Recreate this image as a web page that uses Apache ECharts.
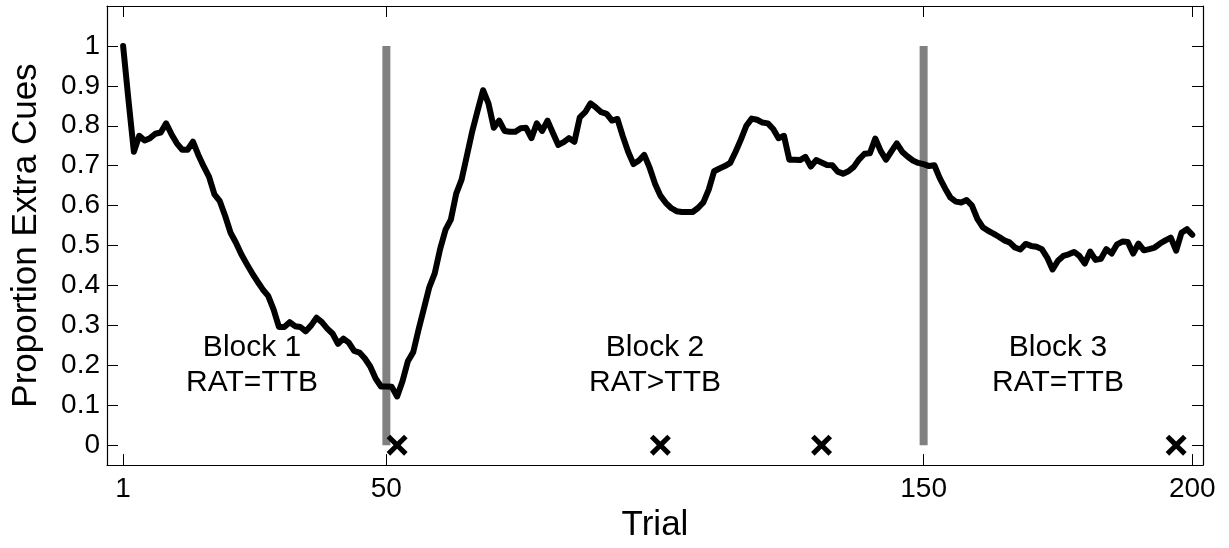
<!DOCTYPE html>
<html>
<head>
<meta charset="utf-8">
<script src="https://cdn.jsdelivr.net/npm/echarts@6/dist/echarts.min.js"></script>
<style>html,body{margin:0;padding:0;background:#fff}#c{width:1229px;height:548px}</style>
</head>
<body>
<div id="c"></div>
<script>
// ---- data ----
const proportion = [
  1.0, 0.864, 0.735, 0.775, 0.763, 0.769, 0.78, 0.783, 0.806, 0.779,
  0.756, 0.74, 0.74, 0.76, 0.727, 0.698, 0.672, 0.628, 0.611, 0.574,
  0.532, 0.507, 0.478, 0.454, 0.431, 0.41, 0.39, 0.374, 0.34, 0.296,
  0.296, 0.308, 0.298, 0.296, 0.285, 0.30, 0.319, 0.308, 0.292, 0.279,
  0.254, 0.267, 0.257, 0.236, 0.232, 0.217, 0.197, 0.167, 0.147, 0.147,
  0.146, 0.122, 0.16, 0.21, 0.233, 0.29, 0.343, 0.396, 0.43, 0.491,
  0.539, 0.565, 0.63, 0.665, 0.726, 0.787, 0.839, 0.889, 0.856, 0.795,
  0.813, 0.787, 0.785, 0.785, 0.794, 0.795, 0.769, 0.806, 0.787, 0.813,
  0.782, 0.752, 0.759, 0.769, 0.76, 0.821, 0.834, 0.856, 0.846, 0.834,
  0.83, 0.813, 0.817, 0.774, 0.735, 0.704, 0.713, 0.727, 0.695, 0.655,
  0.625, 0.607, 0.594, 0.586, 0.584, 0.584, 0.584, 0.594, 0.608, 0.64,
  0.686, 0.693, 0.699, 0.707, 0.735, 0.766, 0.80, 0.818, 0.815, 0.808,
  0.806, 0.792, 0.769, 0.775, 0.715, 0.715, 0.714, 0.722, 0.698, 0.714,
  0.708, 0.702, 0.701, 0.685, 0.68, 0.686, 0.697, 0.716, 0.73, 0.731,
  0.768, 0.737, 0.715, 0.736, 0.756, 0.735, 0.723, 0.713, 0.707, 0.704,
  0.699, 0.701, 0.669, 0.643, 0.62, 0.61, 0.608, 0.614, 0.60, 0.567,
  0.546, 0.537, 0.53, 0.522, 0.513, 0.508, 0.495, 0.49, 0.504, 0.499,
  0.497, 0.491, 0.47, 0.44, 0.462, 0.474, 0.478, 0.484, 0.474, 0.455,
  0.485, 0.464, 0.467, 0.491, 0.48, 0.503, 0.51, 0.509, 0.48, 0.505,
  0.488, 0.491, 0.495, 0.505, 0.513, 0.52, 0.487, 0.532, 0.541, 0.527
];
const trials = proportion.map((_, i) => i + 1);
const blockBoundaries = [50, 150];
const markerTrials = [52, 101, 131, 197];
const blockLabelTrials = [25, 100, 175];
const blockLabelValue = 0.2;
const blockLabels = ['Block 1\nRAT=TTB', 'Block 2\nRAT>TTB', 'Block 3\nRAT=TTB'];
const xTicks = [1, 50, 150, 200];
const yTicks = [0, 0.1, 0.2, 0.3, 0.4, 0.5, 0.6, 0.7, 0.8, 0.9, 1];
const xName = 'Trial';
const yName = 'Proportion Extra Cues';

// ---- chart ----
const FONT = '"Liberation Sans", Arial, Helvetica, sans-serif';
const chart = echarts.init(document.getElementById('c'), null, {renderer: 'canvas'});

const tickStyle = {show: true, inside: true, length: 11, lineStyle: {color: '#000', width: 1}};
const lineStyle = {show: true, onZero: false, lineStyle: {color: '#000', width: 1.2}};

function xAxis(pos, withLabel) {
  return {
    type: 'value', position: pos, min: -2, max: 202,
    axisLine: lineStyle,
    axisTick: Object.assign({customValues: xTicks}, tickStyle),
    axisLabel: withLabel ? {show: true, customValues: xTicks, fontSize: 28, color: '#000', fontFamily: FONT, margin: 10} : {show: false},
    splitLine: {show: false},
    name: withLabel ? xName : '', nameLocation: 'middle', nameGap: 42,
    nameTextStyle: {fontSize: 35, color: '#000', fontFamily: FONT}
  };
}
function yAxis(pos, withLabel) {
  return {
    type: 'value', position: pos, min: -0.05, max: 1.1,
    axisLine: lineStyle,
    axisTick: Object.assign({customValues: yTicks}, tickStyle),
    axisLabel: withLabel ? {show: true, customValues: yTicks, fontSize: 28, color: '#000', fontFamily: FONT, margin: 7,
      formatter: v => String(+(+v).toFixed(1))} : {show: false},
    splitLine: {show: false},
    name: withLabel ? yName : '', nameLocation: 'middle', nameGap: 63, nameRotate: 90,
    nameTextStyle: {fontSize: 35, color: '#000', fontFamily: FONT}
  };
}

const series = [];
blockBoundaries.forEach(b => {
  series.push({
    type: 'line', xAxisIndex: 0, yAxisIndex: 0, z: 1,
    data: [[b, 0], [b, 1]], symbol: 'none',
    lineStyle: {color: '#808080', width: 8, cap: 'butt'}, silent: true
  });
});
series.push({
  type: 'line', xAxisIndex: 0, yAxisIndex: 0, z: 3,
  data: trials.map((t, i) => [t, proportion[i]]), symbol: 'none',
  lineStyle: {color: '#000', width: 6, join: 'round', cap: 'round'}, silent: true
});
series.push({
  type: 'scatter', xAxisIndex: 0, yAxisIndex: 0, z: 4,
  data: markerTrials.map(t => [t, 0]),
  symbol: 'path://M0,3.4 L3.4,0 L10,6.6 L16.6,0 L20,3.4 L13.4,10 L20,16.6 L16.6,20 L10,13.4 L3.4,20 L0,16.6 L6.6,10 Z',
  symbolSize: 21, itemStyle: {color: '#000', opacity: 1}, silent: true
});
series.push({
  type: 'scatter', xAxisIndex: 0, yAxisIndex: 0, z: 5,
  data: blockLabelTrials.map((t, i) => ({value: [t, blockLabelValue], name: blockLabels[i]})),
  symbolSize: 1, itemStyle: {color: 'rgba(0,0,0,0)', opacity: 1}, silent: true,
  label: {show: true, position: 'inside', formatter: p => p.name, fontSize: 30, lineHeight: 35,
    color: '#000', opacity: 1, fontFamily: FONT, align: 'center', verticalAlign: 'middle'}
});

chart.setOption({
  animation: false,
  backgroundColor: '#fff',
  grid: {left: 107, right: 26, top: 6, bottom: 79},
  xAxis: [xAxis('bottom', true), xAxis('top', false)],
  yAxis: [yAxis('left', true), yAxis('right', false)],
  series: series
});
</script>
</body>
</html>
